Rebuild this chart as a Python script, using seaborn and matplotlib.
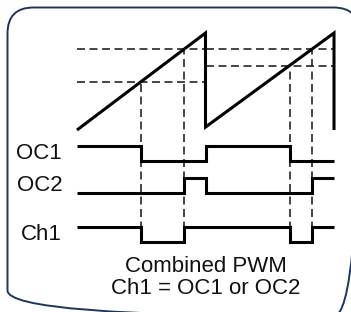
import matplotlib
matplotlib.use("Agg")
import matplotlib.pyplot as plt
from matplotlib.patches import FancyBboxPatch
import seaborn as sns

# sawtooth carrier: time in PWM periods, value normalised to the ramp height
saw_t = [0, 1, 1, 2, 2]
saw_v = [0, 1, 0.03, 1, 0]

# compare levels for each period
period_start = [0, 1]
period_end = [1, 2]
cmp_oc1 = [0.5, 0.66]
cmp_oc2 = [0.83, 0.83]

# output states between switching times (last state repeated to close the trace)
edge_t = [0, 0.5, 0.83, 1.0, 1.66, 1.83, 2.0]
oc1_state = [1, 0, 0, 1, 0, 0, 0]
oc2_state = [0, 0, 1, 0, 0, 1, 1]
ch1_state = [1, 0, 1, 1, 0, 1, 1]

signal_names = ["OC1", "OC2", "Ch1"]
caption = ["Combined PWM", "Ch1 = OC1 or OC2"]

# layout
lane_low = [-0.32, -0.65, -1.155]
swing = 0.16
ink = "black"
dash_col = "#2e2e2e"
dash_style = (0, (4.6, 2.6))

sns.set_style("white")
plt.rcParams["font.family"] = ["Liberation Sans", "DejaVu Sans"]

fig = plt.figure(figsize=(3.51, 3.12), dpi=100)
ax = fig.add_axes([0, 0, 1, 1])
ax.set_xlim(-77 / 128.5, (351 - 77) / 128.5)
ax.set_ylim((130 - 312) / 97, 130 / 97)
ax.axis("off")

# dashed compare levels
ax.hlines(cmp_oc1, period_start, period_end, colors=dash_col, lw=1.25, linestyles=[dash_style])
ax.hlines(cmp_oc2, period_start, period_end, colors=dash_col, lw=1.25, linestyles=[dash_style])

# dashed drop lines from the crossing points down to Ch1
cross_t = [edge_t[1], edge_t[2], edge_t[4], edge_t[5]]
cross_v = [cmp_oc1[0], cmp_oc2[0], cmp_oc1[1], cmp_oc2[1]]
ax.vlines(cross_t, lane_low[2], cross_v, colors=dash_col, lw=1.25, linestyles=[dash_style])

line_kw = dict(color=ink, lw=2.2, estimator=None, sort=False, legend=False,
               solid_capstyle="butt", solid_joinstyle="miter")

sns.lineplot(x=saw_t, y=saw_v, ax=ax, **line_kw)

for name, states, low in zip(signal_names, [oc1_state, oc2_state, ch1_state], lane_low):
    ys = [low + swing * s for s in states]
    sns.lineplot(x=edge_t, y=ys, ax=ax, drawstyle="steps-post", **line_kw)
    ax.text(-0.115, low + swing / 2, name, ha="right", va="center",
            fontsize=16, color="#111111")

ax.text(1.0, (130 - 267) / 97, caption[0], ha="center", va="center",
        fontsize=16, color="#111111")
ax.text(1.0, (130 - 288) / 97, caption[1], ha="center", va="center",
        fontsize=16, color="#111111")

# rounded frame, drawn in pixel units so the corners stay circular
fax = fig.add_axes([0, 0, 1, 1], zorder=-1)
fax.set_xlim(0, 351)
fax.set_ylim(312, 0)
fax.axis("off")
fax.add_patch(FancyBboxPatch((7.5, 7.5), 352, 309,
                             boxstyle="round,pad=0,rounding_size=26",
                             fc="none", ec="#1c365a", lw=1.4))

fig.savefig("out.png", dpi=100)
